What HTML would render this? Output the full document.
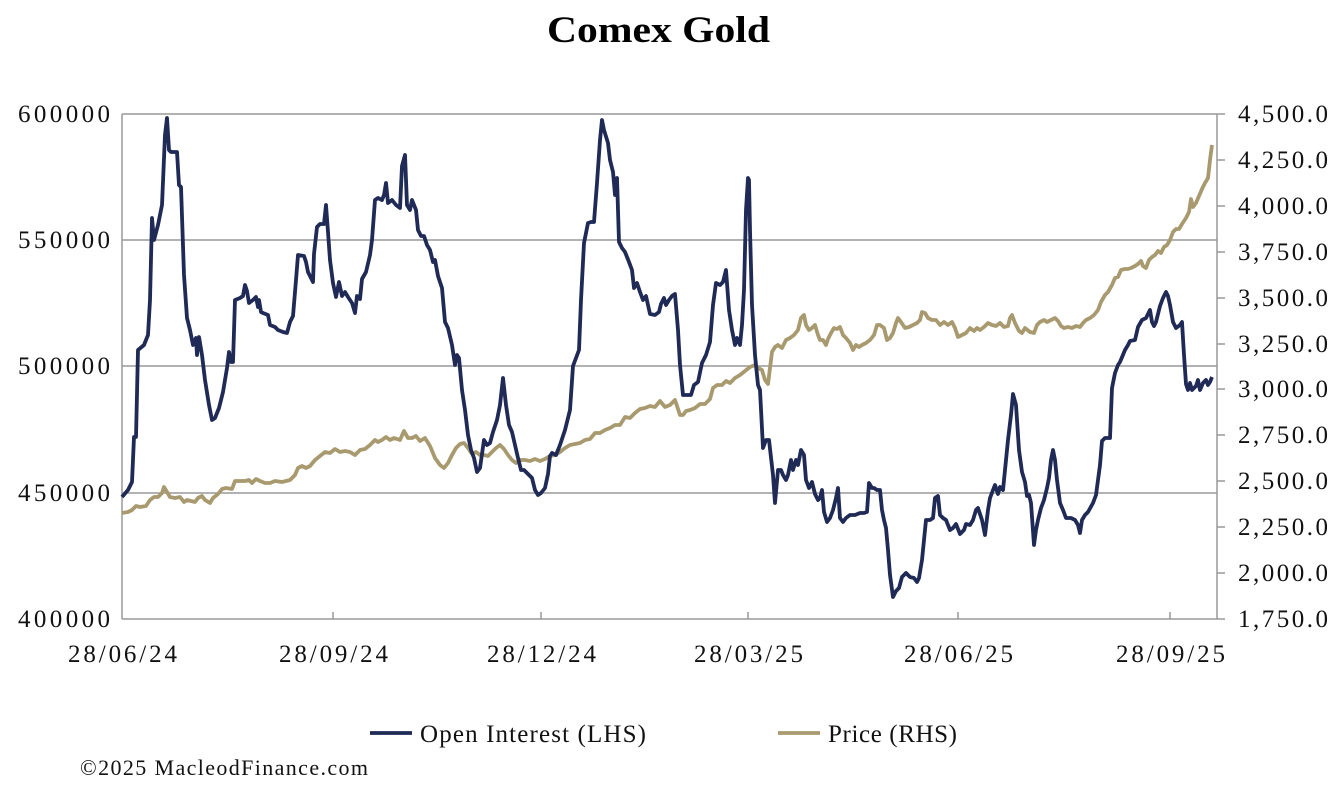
<!DOCTYPE html>
<html><head><meta charset="utf-8"><style>
body{margin:0;background:#fff;}
svg{display:block;font-family:"Liberation Serif",serif;}
</style></head><body>
<svg width="1334" height="790" viewBox="0 0 1334 790" xmlns="http://www.w3.org/2000/svg">
<text x="547" y="42" font-size="37" font-weight="bold" fill="#000" textLength="223" lengthAdjust="spacingAndGlyphs">Comex Gold</text>
<g stroke="#999" stroke-width="1.5">
<line x1="122" y1="114" x2="1217" y2="114"/><line x1="122" y1="240" x2="1217" y2="240"/>
<line x1="122" y1="366" x2="1217" y2="366"/><line x1="122" y1="493" x2="1217" y2="493"/>
<line x1="122" y1="619" x2="1217" y2="619"/>
<line x1="122" y1="114" x2="122" y2="619"/><line x1="1217" y1="114" x2="1217" y2="619"/>
<line x1="333" y1="612" x2="333" y2="619"/><line x1="541" y1="612" x2="541" y2="619"/><line x1="748" y1="612" x2="748" y2="619"/><line x1="958" y1="612" x2="958" y2="619"/><line x1="1170" y1="612" x2="1170" y2="619"/>
<line x1="1217" y1="160" x2="1225" y2="160"/><line x1="1217" y1="206" x2="1225" y2="206"/><line x1="1217" y1="252" x2="1225" y2="252"/><line x1="1217" y1="298" x2="1225" y2="298"/><line x1="1217" y1="344" x2="1225" y2="344"/><line x1="1217" y1="389" x2="1225" y2="389"/><line x1="1217" y1="435" x2="1225" y2="435"/><line x1="1217" y1="481" x2="1225" y2="481"/><line x1="1217" y1="527" x2="1225" y2="527"/><line x1="1217" y1="573" x2="1225" y2="573"/><line x1="1217" y1="114" x2="1225" y2="114"/><line x1="1217" y1="619" x2="1225" y2="619"/>
</g>
<g font-size="25" fill="#111">
<text x="18" y="122" textLength="92">600000</text><text x="18" y="248" textLength="92">550000</text><text x="18" y="374" textLength="92">500000</text><text x="18" y="501" textLength="92">450000</text><text x="18" y="627" textLength="92">400000</text>
</g>
<g font-size="25" fill="#111">
<text x="1238" y="122" textLength="90">4,500.0</text><text x="1238" y="168" textLength="90">4,250.0</text><text x="1238" y="214" textLength="90">4,000.0</text><text x="1238" y="260" textLength="90">3,750.0</text><text x="1238" y="306" textLength="90">3,500.0</text><text x="1238" y="352" textLength="90">3,250.0</text><text x="1238" y="397" textLength="90">3,000.0</text><text x="1238" y="443" textLength="90">2,750.0</text><text x="1238" y="489" textLength="90">2,500.0</text><text x="1238" y="535" textLength="90">2,250.0</text><text x="1238" y="581" textLength="90">2,000.0</text><text x="1238" y="627" textLength="90">1,750.0</text>
</g>
<g font-size="25" fill="#111">
<text x="68" y="662" textLength="109">28/06/24</text><text x="279" y="662" textLength="109">28/09/24</text><text x="487" y="662" textLength="109">28/12/24</text><text x="694" y="662" textLength="109">28/03/25</text><text x="904" y="662" textLength="109">28/06/25</text><text x="1116" y="662" textLength="109">28/09/25</text>
</g>
<polyline fill="none" stroke="#a89a6e" stroke-width="3.8" stroke-linejoin="round" points="122,513 128,512 132,510 136,506 140,507 146,506 150,500 154,497 158,497 162,493 164,487 167,492 170,497 175,498 180,497 184,502 187,500 191,501 195,502 198,498 202,496 205,500 210,503 213,498 218,494 222,489 226,488 232,489 235,481 240,481 245,481 249,480 252,483 256,479 260,481 265,483 270,483 275,481 282,482 290,480 295,475 298,468 302,466 306,468 310,466 315,460 320,456 325,452 330,453 335,449 340,452 345,451 350,452 355,455 360,450 365,449 370,445 375,440 378,442 382,440 386,437 390,440 394,438 400,440 404,431 408,438 412,438 416,436 420,441 425,438 430,446 435,458 440,465 444,468 448,463 452,455 456,448 460,444 464,443 468,448 472,454 476,452 480,455 484,455 488,456 492,452 496,448 500,445 504,449 508,455 512,460 516,463 520,460 525,460 530,461 535,459 540,461 545,459 550,456 555,455 560,452 565,448 570,445 575,444 580,443 585,440 590,439 595,433 600,433 605,430 610,428 615,425 620,425 625,417 630,418 635,413 640,409 645,408 650,406 655,407 660,401 665,407 670,405 675,400 680,415 683,415 686,411 690,410 695,408 700,404 705,404 710,399 713,388 717,385 722,385 726,381 730,383 735,378 740,375 745,371 750,367 755,365 758,368 762,370 765,380 768,384 770,368 772,352 775,347 778,345 782,348 786,340 790,338 794,335 798,330 801,318 804,315 806,325 809,330 812,328 815,325 818,335 820,340 823,340 826,345 828,339 831,333 834,328 837,329 840,327 843,335 846,338 850,343 853,350 856,345 859,347 862,345 866,343 870,340 874,335 877,325 880,325 884,328 887,340 890,338 893,333 896,323 898,318 901,322 905,328 909,327 913,325 917,323 920,320 922,312 925,313 928,318 932,320 936,320 940,325 944,322 948,325 952,322 955,328 958,337 962,335 966,333 970,328 974,331 977,328 980,330 984,327 988,323 992,325 996,326 1000,323 1004,327 1008,326 1010,318 1012,315 1015,323 1019,331 1022,333 1025,328 1030,332 1034,333 1037,325 1040,322 1044,320 1047,322 1051,320 1055,318 1058,321 1061,326 1064,328 1068,327 1072,328 1076,326 1080,327 1083,323 1086,320 1090,318 1094,315 1098,310 1101,302 1105,295 1108,292 1112,285 1115,278 1118,277 1121,270 1125,269 1128,269 1131,268 1135,266 1138,264 1141,261 1143,266 1146,268 1149,260 1152,257 1155,255 1158,251 1161,253 1164,247 1167,245 1170,240 1173,232 1176,229 1179,229 1182,224 1186,218 1189,212 1191,199 1193,207 1196,203 1199,196 1202,189 1205,183 1208,178 1210,160 1212,145"/>
<polyline fill="none" stroke="#1f2a56" stroke-width="3.8" stroke-linejoin="round" points="122,497 128,490 132,482 134,437 136,437 138,350 144,345 148,335 150,300 152,218 154,240 158,225 162,205 165,135 167,118 169,150 171,152 177,152 179,185 181,187 184,275 187,318 190,330 193,345 196,338 197,355 199,337 202,355 205,380 209,405 212,420 215,418 219,408 223,392 227,368 229,352 231,362 233,362 235,300 240,298 243,296 245,285 247,291 249,303 253,300 256,297 258,307 259,300 261,312 263,313 268,315 270,325 275,327 278,330 283,332 287,333 290,322 293,316 296,280 298,255 304,256 306,262 308,272 313,282 314,254 317,227 320,224 324,224 326,205 328,232 330,260 333,283 336,297 339,282 342,296 345,292 348,297 352,303 355,313 357,296 360,299 362,279 366,272 370,255 372,240 375,200 378,198 382,200 384,195 386,183 388,203 392,200 396,205 400,208 402,166 405,155 407,205 410,210 412,200 416,210 418,230 421,236 424,236 427,245 430,250 433,262 435,260 438,276 442,288 445,322 448,328 452,345 455,365 457,355 459,358 462,390 465,410 468,435 471,450 474,458 477,472 480,468 484,440 487,445 490,443 493,432 497,420 500,405 503,378 506,405 509,425 512,432 515,445 518,458 521,470 524,470 527,473 532,478 535,490 538,495 541,493 545,488 548,474 550,456 552,453 556,455 560,445 565,430 570,410 573,366 576,358 579,350 581,300 584,243 588,223 591,222 594,222 597,183 600,140 602,120 604,130 608,143 610,160 613,172 615,195 617,178 619,242 622,248 625,252 629,262 632,270 634,288 637,283 640,292 643,300 646,296 648,305 650,314 655,315 659,312 661,304 664,298 666,305 669,300 672,296 675,294 678,330 680,365 683,395 688,395 691,395 694,385 698,382 702,363 706,355 710,342 713,305 716,283 720,285 723,282 726,270 729,310 732,330 735,345 737,338 740,345 742,325 744,290 746,210 748,178 749,180 750,230 752,305 755,355 758,385 760,390 763,448 766,440 769,440 773,475 775,503 778,470 781,470 783,475 786,480 788,475 791,460 793,470 796,460 798,465 801,450 804,455 806,480 809,488 812,482 815,494 818,500 820,498 822,490 824,512 827,522 830,518 833,510 836,498 838,488 840,518 843,522 846,518 850,515 855,515 860,513 864,513 867,512 869,483 872,488 874,488 877,490 880,490 882,510 884,520 886,528 888,550 890,575 893,597 896,591 899,588 902,577 906,573 910,577 914,578 917,582 919,578 922,560 924,540 926,520 930,520 933,518 935,498 938,496 940,515 943,518 946,520 950,530 953,528 956,524 960,534 964,530 966,524 970,525 973,520 976,510 978,508 982,520 985,535 988,510 990,498 993,490 995,485 998,494 1000,487 1003,490 1005,470 1008,440 1011,415 1013,394 1016,405 1019,450 1022,472 1025,482 1027,496 1029,495 1031,503 1034,545 1036,530 1038,520 1041,508 1044,500 1047,488 1049,478 1051,460 1053,450 1055,460 1057,480 1060,503 1063,510 1066,518 1071,518 1075,520 1078,525 1080,533 1082,520 1085,515 1088,512 1093,503 1096,495 1100,465 1102,441 1105,438 1110,438 1112,388 1115,373 1118,365 1120,362 1125,350 1128,345 1130,341 1135,340 1138,327 1142,320 1146,318 1150,310 1152,322 1154,326 1156,322 1160,306 1163,298 1166,292 1168,296 1170,305 1173,322 1176,328 1180,325 1182,322 1184,355 1186,384 1188,390 1190,383 1192,390 1196,386 1198,380 1200,390 1203,383 1206,380 1208,385 1210,382 1212,377"/>
<line x1="370" y1="733" x2="412" y2="733" stroke="#1f2a56" stroke-width="3.8"/>
<text x="420" y="742" font-size="25" fill="#111" textLength="226">Open Interest (LHS)</text>
<line x1="778" y1="733" x2="820" y2="733" stroke="#a89a6e" stroke-width="3.8"/>
<text x="828" y="742" font-size="25" fill="#111" textLength="129">Price (RHS)</text>
<text x="80" y="775" font-size="22" fill="#111" textLength="288">©2025 MacleodFinance.com</text>
</svg>
</body></html>
